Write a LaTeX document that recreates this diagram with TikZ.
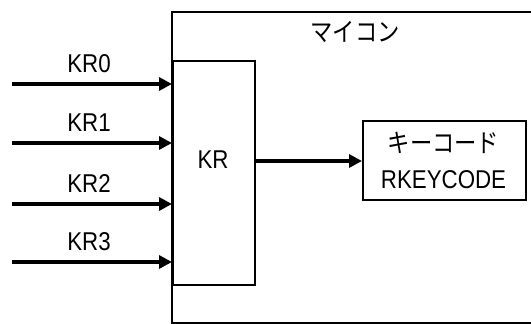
\documentclass[tikz,border=0pt]{standalone}
\usepackage{fontspec}
\setmainfont{Liberation Sans}
\newfontfamily\jpfont{Noto Sans CJK JP}
\usetikzlibrary{arrows.meta}
\newcommand{\tall}[1]{\scalebox{0.97}[1.12]{#1}}
\tikzset{
  box/.style={draw, line width=1.6pt, inner sep=0pt},
  lbl/.style={font=\fontsize{23}{25}\selectfont, inner sep=0pt},
  sig/.style={line width=3.6pt, -{Triangle[length=13pt,width=13pt]}},
}
\begin{document}
\begin{tikzpicture}[x=1pt,y=-1pt]
\useasboundingbox (0,0) rectangle (531,324);
% outer microcontroller box (right side beyond picture)
\coordinate (mtr) at (535,12);
\coordinate (mtl) at (172,12);
\coordinate (mbl) at (172,323);
\coordinate (mbr) at (535,323);
\draw[line width=1.6pt] (mtr) -- (mtl) -- (mbl) -- (mbr);
\node[lbl] (mcu) at (355,32) {\tall{\jpfont マイコン}};
% KR block
\node[box, minimum width=82pt, minimum height=224pt, anchor=north west] (kr) at (172,60) {};
\node[lbl] (krt) at (213,160) {\tall{KR}};
% RKEYCODE box
\node[box, minimum width=163pt, minimum height=79pt, anchor=north west] (rk) at (362,120) {};
\node[lbl] (rkj) at (443.5,143) {\tall{\jpfont キーコード}};
\node[lbl] (rke) at (443.5,180) {\tall{RKEYCODE}};
% inputs
\foreach \i/\y in {0/84,1/143,2/204,3/262}{
  \coordinate (in\i) at (12,\y);
  \coordinate (end\i) at (172,\y);
  \draw[sig] (in\i) -- (end\i);
  \node[lbl] (l\i) at (89,\y-20) {\tall{KR\i}};
}
\coordinate (krout) at (254,161);
\coordinate (rkin) at (362,161);
\draw[sig] (krout) -- (rkin);
\end{tikzpicture}
\end{document}
